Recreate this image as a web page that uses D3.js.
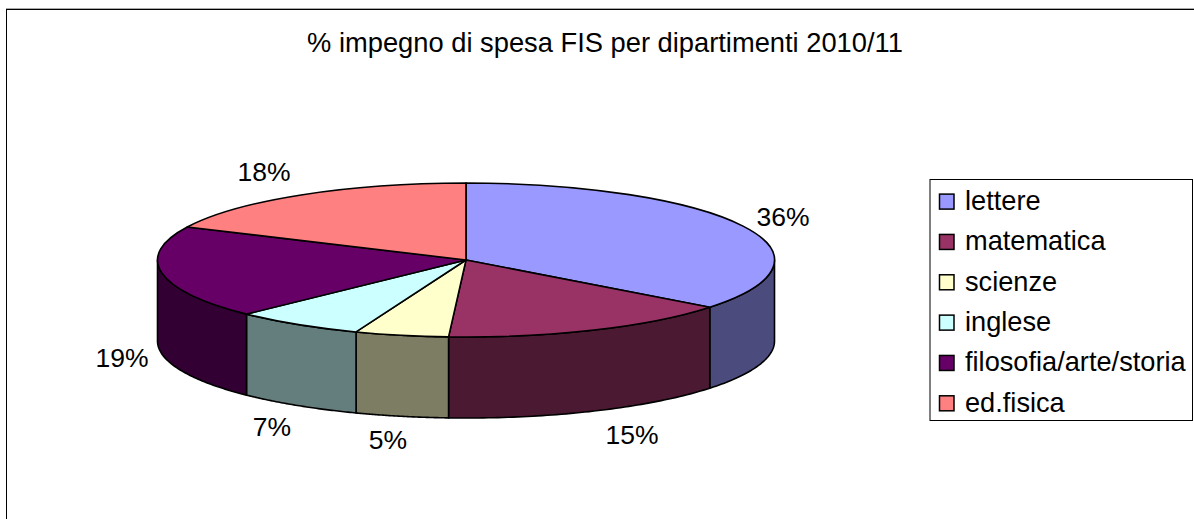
<!DOCTYPE html>
<html>
<head>
<meta charset="utf-8">
<script src="https://cdn.jsdelivr.net/npm/d3@7"></script>
<style>
  html, body { margin: 0; padding: 0; background: #fff; overflow: hidden; }
  svg { display: block; }
  text { font-family: "Liberation Sans", Arial, sans-serif; fill: #000; }
</style>
</head>
<body>
<svg id="chart" width="1194" height="519"></svg>
<script>
"use strict";

const chartTitle = "% impegno di spesa FIS per dipartimenti 2010/11";
const categories = ["lettere", "matematica", "scienze", "inglese", "filosofia/arte/storia", "ed.fisica"];
const shares = [35.5, 15.4, 4.9, 6.8, 19.45, 17.95];
const topColors = ["#9999ff", "#993366", "#ffffcc", "#ccffff", "#660066", "#ff8080"];

const svg = d3.select("#chart");

const pieBox = { cx: 466, cy: 260, rx: 308.5, ry: 77, depth: 81 };

// frame, only top and left edges show in the picture
svg.append("line").attr("x1", 6).attr("x2", 1194).attr("y1", 8.5).attr("y2", 8.5)
  .attr("stroke", "#aaa").attr("stroke-width", 1);
svg.append("line").attr("x1", 6).attr("x2", 1194).attr("y1", 9.5).attr("y2", 9.5)
  .attr("stroke", "#000").attr("stroke-width", 1);
svg.append("line").attr("x1", 6.5).attr("x2", 6.5).attr("y1", 9).attr("y2", 519)
  .attr("stroke", "#000").attr("stroke-width", 1);

svg.append("text").attr("x", 605).attr("y", 52).attr("text-anchor", "middle")
  .style("font-size", "27.3px").text(chartTitle);

const slices = d3.pie().sort(null).value(d => d)(shares);
const projX = a => pieBox.cx + pieBox.rx * Math.sin(a);
const projY = a => pieBox.cy - pieBox.ry * Math.cos(a);

// side walls, only the front half of the ellipse is visible
function wallPath(a0, a1) {
  let from = Math.max(a0, Math.PI / 2), to = Math.min(a1, Math.PI * 1.5);
  if (from >= to) return null;
  let p = d3.path();
  p.moveTo(projX(from), projY(from));
  for (let i = 1; i <= 60; i++) {
    let a = from + (to - from) * i / 60;
    p.lineTo(projX(a), projY(a));
  }
  p.lineTo(projX(to), projY(to) + pieBox.depth);
  for (let i = 59; i >= 0; i--) {
    let a = from + (to - from) * i / 60;
    p.lineTo(projX(a), projY(a) + pieBox.depth);
  }
  p.closePath();
  return p.toString();
}

const pieGroup = svg.append("g").attr("stroke", "#000").attr("stroke-width", 1.6).attr("stroke-linejoin", "round");

pieGroup.selectAll(".wall").data(slices).enter().append("path").classed("wall", true)
  .attr("d", d => wallPath(d.startAngle, d.endAngle))
  .attr("fill", (d, i) => d3.rgb(topColors[i]).darker(2).formatHex());

// top face: flat d3.arc squashed into an ellipse
const arc = d3.arc().innerRadius(0).outerRadius(pieBox.rx);
pieGroup.selectAll(".face").data(slices).enter().append("path").classed("face", true)
  .attr("transform", `translate(${pieBox.cx},${pieBox.cy}) scale(1,${pieBox.ry / pieBox.rx})`)
  .attr("d", arc)
  .attr("fill", (d, i) => topColors[i])
  .attr("vector-effect", "non-scaling-stroke");

// percent labels
const labelSpots = [[783, 225.5], [632, 443.5], [388, 448.5], [272, 435.5], [122, 367], [264, 181]];
svg.selectAll(".pct").data(slices).enter().append("text").classed("pct", true)
  .attr("x", (d, i) => labelSpots[i][0])
  .attr("y", (d, i) => labelSpots[i][1])
  .attr("text-anchor", "middle").style("font-size", "26.5px")
  .text(d => Math.round(d.data) + "%");

// legend
svg.append("rect").attr("x", 930).attr("y", 179.5).attr("width", 262.5).attr("height", 241)
  .attr("fill", "#fff").attr("stroke", "#000").attr("stroke-width", 1);

const legendY = d3.scalePoint().domain(categories).range([201.6, 403.3]);
const legend = svg.selectAll(".legend-item").data(categories).enter().append("g").classed("legend-item", true)
  .attr("transform", d => `translate(0,${legendY(d)})`);
legend.append("rect").attr("x", 939.5).attr("y", -7.5).attr("width", 14.5).attr("height", 15)
  .attr("fill", (d, i) => topColors[i]).attr("stroke", "#000").attr("stroke-width", 1.5);
legend.append("text").attr("x", 965).attr("y", 8.5).style("font-size", "27.2px").text(d => d);
</script>
</body>
</html>
